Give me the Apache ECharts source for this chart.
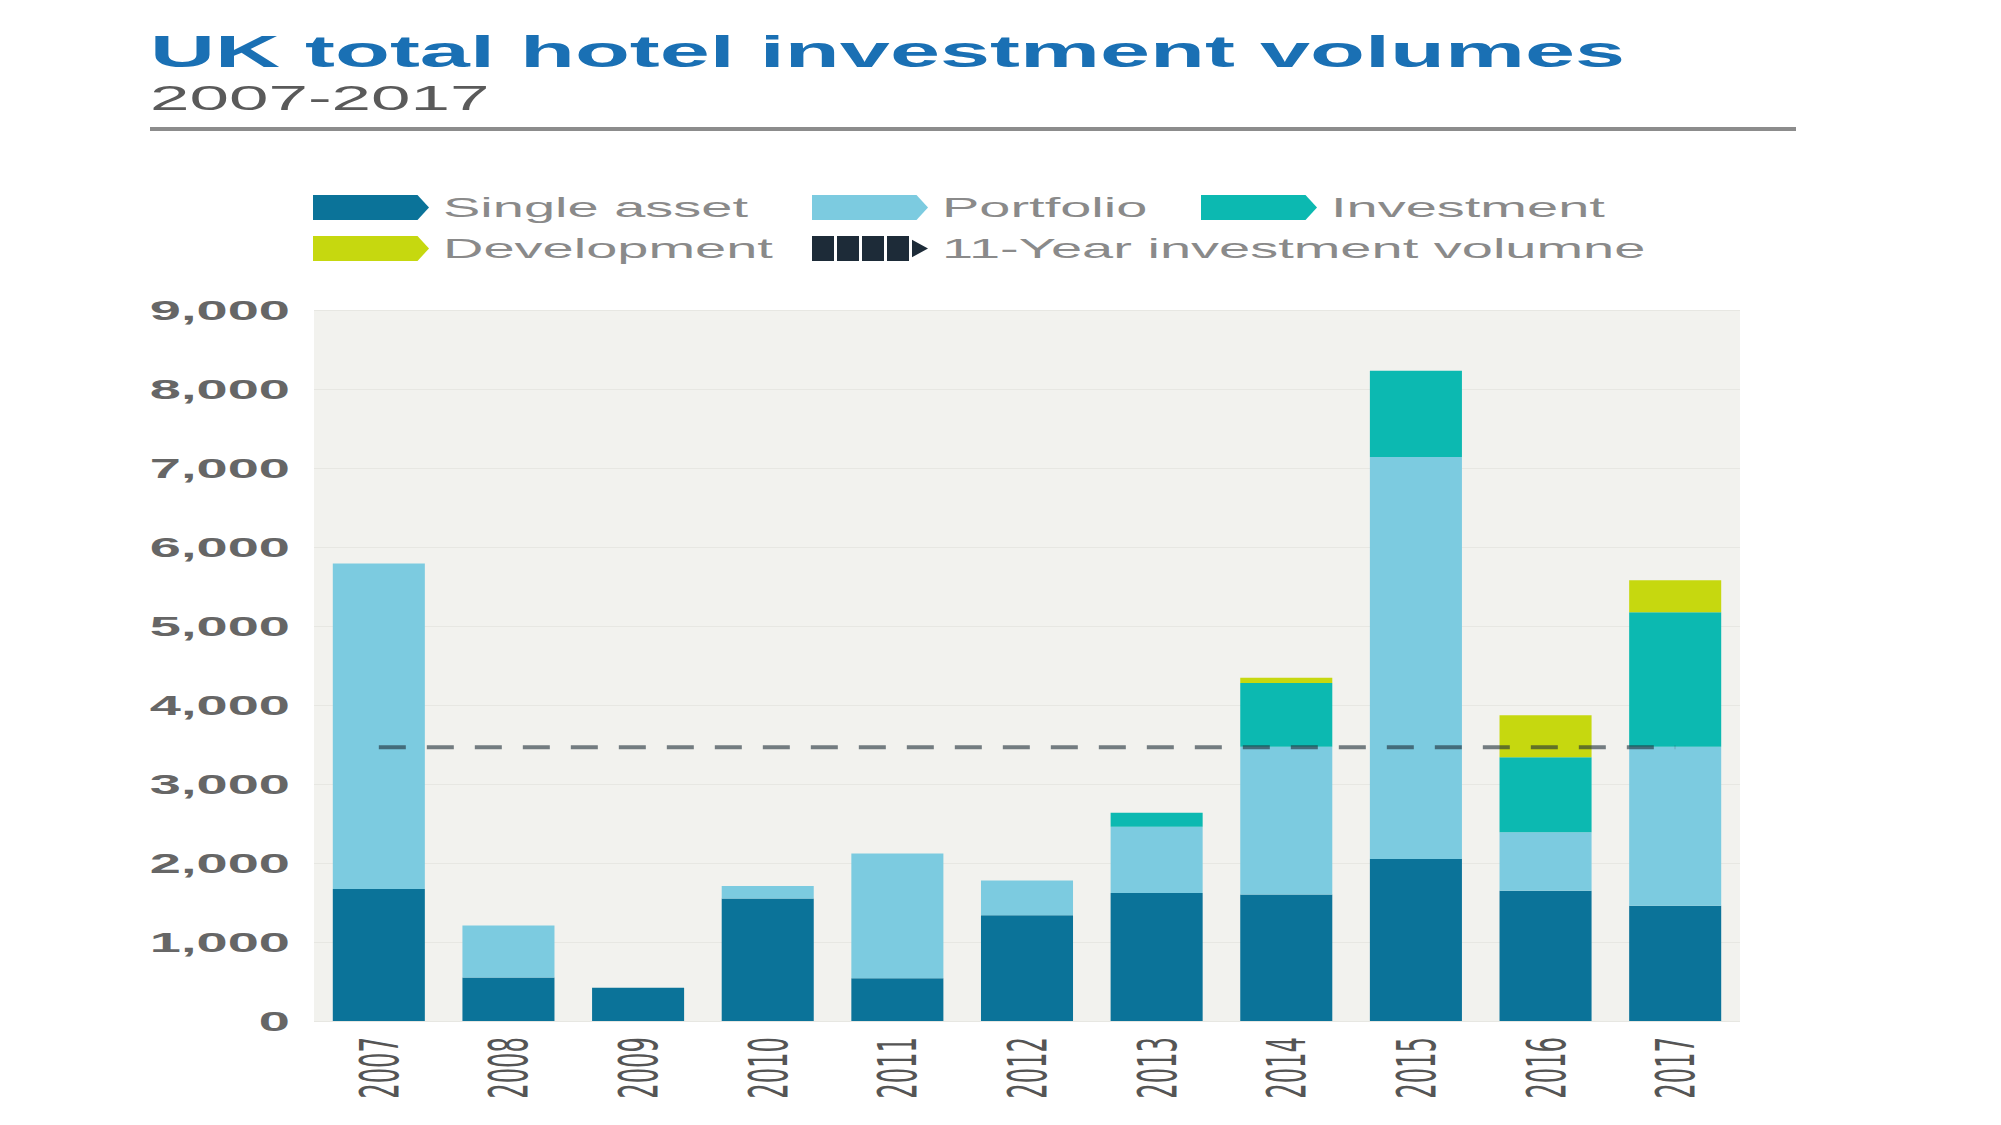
<!DOCTYPE html>
<html>
<head>
<meta charset="utf-8">
<script src="https://cdn.jsdelivr.net/npm/echarts@6/dist/echarts.min.js"></script>
<style>
html,body{margin:0;padding:0;background:#fff;overflow:hidden;width:2001px;height:1125px;}
#c{width:1000px;height:1125px;transform:scaleX(2);transform-origin:0 0;}
</style>
</head>
<body>
<div id="c"></div>
<script>
// ---- data ----
const years = ['2007','2008','2009','2010','2011','2012','2013','2014','2015','2016','2017'];
const singleAsset = [1670, 550, 420, 1550, 540, 1340, 1620, 1600, 2050, 1650, 1460];
const portfolio   = [4120, 660,   0,  160, 1580, 440,  840, 1870, 5090,  740, 2010];
const investment  = [   0,   0,   0,    0,    0,   0,  177,  810, 1090,  950, 1705];
const development = [   0,   0,   0,    0,    0,   0,    0,   64,    0,  531,  404];
const elevenYearAvg = [3465,3465,3465,3465,3465,3465,3465,3465,3465,3465,3465];
const yTicks = {min: 0, max: 9000, interval: 1000};

const names = ['Single asset','Portfolio','Investment','Development','11-Year investment volumne'];
const colors = ['#0b7399','#7ccbe0','#0cb9b1','#c6d80f','#1d2b38'];

const arrow = 'path://M0,0L209,0L232,50L209,100L0,100Z';
const stripes = 'path://M0,0h44v100h-44zM50,0h44v100h-44zM100,0h44v100h-44zM150,0h44v100h-44zM200,15L232,50L200,85Z';

function lg(name, icon, color, left, top) {
  return {
    data: [{name: name, icon: icon, itemStyle: {color: color, borderWidth: 0}}],
    left: left, top: top, padding: 0,
    itemWidth: 58, itemHeight: 25,
    textStyle: {fontFamily: 'Liberation Sans, Arial, sans-serif', fontSize: 28, color: '#8a8a8a', padding: [0,0,0,2]},
    selectedMode: false
  };
}

const chart = echarts.init(document.getElementById('c'), null, {renderer: 'svg'});
chart.setOption({
  animation: false,
  backgroundColor: '#ffffff',
  title: [
    {text: 'UK total hotel investment volumes', left: 75, top: 29, padding: 0,
     textStyle: {fontFamily: 'Liberation Sans, Arial, sans-serif', fontSize: 45, fontWeight: 'bold', color: '#1a70b4'}},
    {text: '2007-2017', left: 75, top: 80, padding: 0,
     textStyle: {fontFamily: 'Liberation Sans, Arial, sans-serif', fontSize: 35.5, fontWeight: 'normal', color: '#5a5a5a'}}
  ],
  graphic: [
    {type: 'rect', shape: {x: 75, y: 127, width: 823, height: 4}, style: {fill: '#8c8c8c'}, silent: true}
  ],
  legend: [
    lg(names[0], arrow, colors[0], 156.5, 193.5),
    lg(names[1], arrow, colors[1], 406, 193.5),
    lg(names[2], arrow, colors[2], 600.5, 193.5),
    lg(names[3], arrow, colors[3], 156.5, 234.5),
    lg(names[4], stripes, colors[4], 406, 234.5)
  ],
  grid: {left: 157, right: 130, top: 310, bottom: 104, show: true, backgroundColor: '#f2f2ee', borderWidth: 0},
  xAxis: {
    type: 'category', data: years,
    axisLine: {show: false}, axisTick: {show: false},
    axisLabel: {rotate: 90, margin: 16, fontFamily: 'Liberation Sans Narrow, DejaVu Sans Condensed, Arial, sans-serif',
                fontSize: 27, color: '#555'}
  },
  yAxis: {
    type: 'value', min: yTicks.min, max: yTicks.max, interval: yTicks.interval,
    axisLine: {show: false}, axisTick: {show: false},
    splitLine: {show: true, lineStyle: {color: '#e7e7e2', width: 1}},
    axisLabel: {margin: 12, fontFamily: 'Liberation Sans, Arial, sans-serif', fontSize: 28, fontWeight: 'bold', color: '#666',
                formatter: v => v.toLocaleString('en-US')}
  },
  series: [
    {name: names[0], type: 'bar', stack: 'total', data: singleAsset, itemStyle: {color: colors[0]}, barCategoryGap: '29%'},
    {name: names[1], type: 'bar', stack: 'total', data: portfolio, itemStyle: {color: colors[1]}},
    {name: names[2], type: 'bar', stack: 'total', data: investment, itemStyle: {color: colors[2]}},
    {name: names[3], type: 'bar', stack: 'total', data: development, itemStyle: {color: colors[3]}},
    {name: names[4], type: 'line', data: elevenYearAvg, symbol: 'none', z: 5,
     itemStyle: {color: colors[4]},
     lineStyle: {color: 'rgba(30,45,55,0.6)', width: 4, type: [13.5, 10.5]}}
  ]
});
</script>
</body>
</html>
